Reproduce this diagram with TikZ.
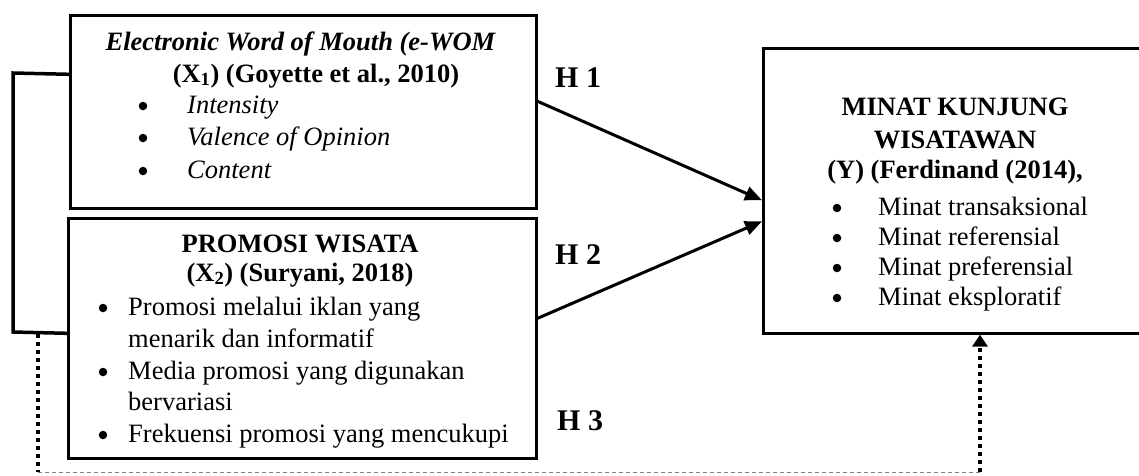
\documentclass[tikz,border=0pt]{standalone}
\usepackage{fontspec}
\setmainfont{Liberation Serif}
\usetikzlibrary{arrows.meta}
\begin{document}
\begin{tikzpicture}[x=1pt,y=-1pt,
  box/.style={draw,line width=2.6pt,inner sep=0pt,anchor=north west},
  txt/.style={inner sep=0pt,anchor=base west,font=\fontsize{26.5}{30}\selectfont},
  itxt/.style={txt,font=\fontsize{26.5}{30}\itshape\selectfont},
  ctr/.style={inner sep=0pt,anchor=base,font=\fontsize{26.5}{30}\bfseries\selectfont},
  bul/.style={circle,fill,inner sep=0pt,minimum size=8.5pt},
  hlab/.style={inner sep=0pt,anchor=base west,font=\fontsize{30}{34}\bfseries\selectfont},
  link/.style={line width=3pt,-{Triangle[length=17pt,width=14pt]}},
  brk/.style={line width=3.5pt},
  dotthick/.style={line width=3.5pt,dash pattern=on 4pt off 4pt},
  dashthin/.style={line width=1pt,draw=gray,dash pattern=on 4pt off 3pt}]
\useasboundingbox (0,0) rectangle (1139,475);

% boxes
\node[box,minimum width=466pt,minimum height=193pt] (xa) at (69,14) {};
\node[box,minimum width=468pt,minimum height=240pt] (xb) at (67,217) {};
\node[box,minimum width=400pt,minimum height=285pt] (yb) at (762,47) {};

% top box text
\node[ctr,font=\fontsize{26.5}{30}\bfseries\itshape\selectfont] (xa1) at (300.5,50) {Electronic Word of Mouth (e-WOM};
\node[ctr] (xa2) at (316,82) {(X\textsubscript{1}) (Goyette et al., 2010)};
\node[bul] (xab1) at (143,106) {};
\node[bul] (xab2) at (143,138) {};
\node[bul] (xab3) at (143,171) {};
\node[itxt] (xat1) at (187,113) {Intensity};
\node[itxt] (xat2) at (187,145) {Valence of Opinion};
\node[itxt] (xat3) at (187,178) {Content};

% bottom box text
\node[ctr] (xb1) at (300,252) {PROMOSI WISATA};
\node[ctr] (xb2) at (300,281) {(X\textsubscript{2}) (Suryani, 2018)};
\node[bul] (xbb1) at (103,308) {};
\node[bul] (xbb2) at (103,372) {};
\node[bul] (xbb3) at (103,435) {};
\node[txt] (xbt1) at (128,315) {Promosi melalui iklan yang};
\node[txt] (xbt2) at (128,347) {menarik dan informatif};
\node[txt] (xbt3) at (128,379) {Media promosi yang digunakan};
\node[txt] (xbt4) at (128,410) {bervariasi};
\node[txt] (xbt5) at (128,442) {Frekuensi promosi yang mencukupi};

% right box text
\node[ctr] (y1) at (955,115) {MINAT KUNJUNG};
\node[ctr] (y2) at (955,148) {WISATAWAN};
\node[ctr] (y3) at (955,178) {(Y) (Ferdinand (2014),};
\node[bul] (yb1) at (837,208) {};
\node[bul] (yb2) at (837,238) {};
\node[bul] (yb3) at (837,268) {};
\node[bul] (yb4) at (837,298) {};
\node[txt] (yt1) at (878,215) {Minat transaksional};
\node[txt] (yt2) at (878,245) {Minat referensial};
\node[txt] (yt3) at (878,275) {Minat preferensial};
\node[txt] (yt4) at (878,305) {Minat eksploratif};

% hypothesis labels
\node[hlab] (h1) at (555,87) {H 1};
\node[hlab] (h2) at (555,264) {H 2};
\node[hlab] (h3) at (557,430) {H 3};

% arrows
\draw[link] ([yshift=10.5pt]xa.east) -- ([yshift=-9.5pt]yb.west);
\draw[link] ([yshift=20pt]xb.east) -- ([yshift=-30.5pt]yb.west);

% bracket joining X1 and X2
\coordinate (bt) at (13,73);
\coordinate (bb) at (13,332);
\draw[brk] ([yshift=37.5pt]xa.west) -- (bt) -- (bb) -- ([yshift=5pt]xb.west);

% simultaneous path (H3)
\coordinate (d0) at (38,334);
\coordinate (d1) at (38,472);
\coordinate (d2) at (980,472);
\draw[dotthick] (d0) -- (d1);
\draw[dashthin] (d1) -- (d2);
\draw[dotthick,-{Triangle[length=12pt,width=15pt]}] (d2) -- (d2 |- yb.south);
\end{tikzpicture}
\end{document}
